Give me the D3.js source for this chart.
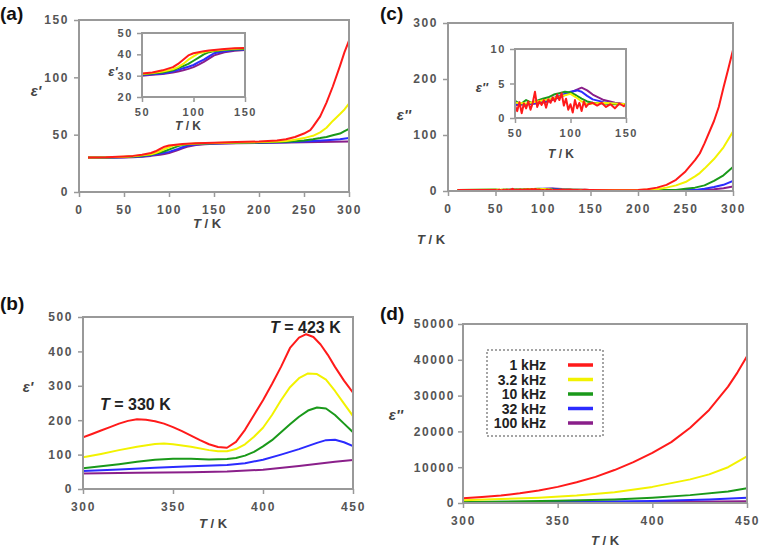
<!DOCTYPE html>
<meta charset="utf-8">
<style>
  body { margin: 0; background: #fff; }
  svg text { font-family: "Liberation Sans", Arial, sans-serif; }
  .tick text { font-weight: bold; fill: #555; letter-spacing: 1.6px; }
  .tick line { stroke: #999; stroke-width: 1.5; }
  .frame { fill: none; stroke: #999; stroke-width: 2; }
  .line { fill: none; stroke-width: 2; stroke-linejoin: round; }
  .ttl { font-weight: bold; fill: #444; }
</style>
<body>
<svg width="761" height="548"></svg>
<script src="https://d3js.org/d3.v7.min.js"></script>
<script>
// frequencies and colours
var freqs = ["1 kHz", "3.2 kHz", "10 kHz", "32 kHz", "100 kHz"];
var colors = ["#ff1a1a", "#f2f200", "#1a991a", "#2b2bff", "#8a1f8a"];

// (a) eps' , 10-300 K  [T, value]
var aRed = [[10,30],[30,30.3],[50,31],[60,31.5],[70,32.5],[80,34],[85,35.5],[90,37.5],[95,39.5],[100,40.5],[105,41],[110,41.5],[115,41.8],[120,42],[130,42.5],[140,42.8],[150,43],[175,43.5],[200,44],[220,45],[230,46],[240,48],[250,51],[257,54],[260,57],[268,66],[275,78],[282,92],[290,110],[295,122],[300,132]];
var aYellow = [[10,30],[30,30.2],[50,30.8],[60,31.2],[70,32],[80,33],[85,34],[90,35.5],[95,37.5],[100,39],[105,40.5],[110,41],[115,41.5],[120,41.8],[130,42.3],[140,42.6],[150,42.8],[175,43.2],[200,43.5],[220,44],[230,44.5],[240,45.5],[250,47],[257,48.5],[260,49],[268,52],[275,56],[282,62],[290,68],[295,72],[300,77]];
var aGreen = [[10,30],[30,30.1],[50,30.5],[60,31],[70,31.5],[80,32.5],[85,33.5],[90,34.5],[95,35.5],[100,37],[105,38.5],[110,40],[115,41],[120,41.5],[130,42],[140,42.3],[150,42.5],[175,43],[200,43.2],[220,43.5],[230,43.8],[240,44.2],[250,45],[260,46],[268,47],[275,48],[282,49.5],[290,51],[295,53],[300,55]];
var aBlue = [[10,30],[30,30],[50,30.3],[60,30.7],[70,31],[80,32],[85,32.7],[90,33.5],[95,34.2],[100,35],[105,36.3],[110,37.5],[115,39],[120,40.5],[130,41.5],[140,42],[150,42.3],[175,42.7],[200,43],[230,43.4],[250,44],[260,44.4],[275,45.2],[290,46],[300,47]];
var aPurple = [[10,29.8],[30,29.8],[50,30],[60,30.4],[70,30.8],[80,31.5],[85,32],[90,32.5],[95,33.2],[100,34],[105,35.2],[110,36.5],[115,38],[120,39.5],[130,41],[140,41.7],[150,42],[175,42.5],[200,42.8],[250,43.3],[300,44]];

// (c) eps'' , 10-300 K
var cRed = [[10,2],[30,2],[50,1.8],[52,1.0],[54,2.3],[56,0.7],[58,2.1],[60,1.4],[62,2.4],[64,1.2],[66,2.2],[68,3.8],[70,1.6],[72,2.4],[74,1.9],[76,2.6],[78,1.5],[80,2.7],[82,2.2],[84,3.0],[86,2.4],[88,3.4],[90,2.6],[92,3.6],[94,1.8],[96,2.8],[98,1.2],[100,2.0],[102,0.8],[104,2.6],[106,1.4],[108,2.2],[110,1.0],[112,2.4],[114,1.6],[116,2.0],[120,2.2],[124,1.8],[128,2.2],[132,1.6],[136,2.0],[140,1.4],[144,2.1],[148,1.7],[150,2.0],[175,1.5],[200,2],[210,3],[220,6],[230,11],[240,20],[250,35],[260,55],[265,67],[270,85],[280,125],[285,150],[290,185],[295,218],[300,252]];
var cYellow = [[10,2],[50,2.2],[60,2.1],[70,2.4],[80,2.7],[90,3.1],[95,3.3],[100,3.5],[105,3.0],[110,2.4],[115,2.0],[120,2.1],[130,2.2],[140,2.1],[150,2.0],[200,2],[220,3],[230,6],[240,10],[250,16],[260,26],[265,32],[270,40],[280,57],[290,78],[300,106]];
var cGreen = [[10,2],[50,2.5],[55,2.0],[60,2.6],[65,2.2],[70,2.5],[75,2.8],[80,3.0],[85,3.4],[90,3.6],[95,3.8],[100,3.7],[105,3.3],[110,2.8],[115,2.4],[120,2.2],[130,2.1],[140,2.0],[150,2.0],[200,1.8],[240,2],[250,4],[260,6],[270,10],[280,18],[290,28],[300,43]];
var cBlue = [[10,2],[50,2.0],[60,2.0],[70,2.2],[80,2.6],[90,3.2],[100,3.8],[106,4.0],[110,3.8],[115,3.2],[120,2.7],[130,2.3],[140,2.1],[150,2.0],[200,1.8],[260,2],[270,4],[280,7],[290,11],[300,18]];
var cPurple = [[10,2],[50,1.9],[60,2.0],[70,2.1],[80,2.4],[90,3.0],[100,3.7],[110,4.4],[115,4.0],[120,3.4],[130,2.6],[140,2.2],[150,2.0],[200,1.6],[270,2],[280,3],[290,5],[300,8]];

// (b) eps' , 300-450 K
var bRed = [[300,150],[305,160],[310,170],[315,180],[320,190],[325,198],[330,203],[335,201],[340,197],[345,190],[350,180],[355,168],[360,155],[365,142],[370,130],[375,122],[380,120],[385,137],[390,172],[395,215],[400,258],[405,305],[410,355],[415,410],[420,440],[424,450],[428,442],[432,420],[436,390],[440,355],[445,315],[450,280]];
var bYellow = [[300,92],[310,102],[320,113],[330,123],[340,131],[345,132],[350,130],[360,123],[370,113],[375,110],[380,110],[385,116],[390,130],[395,152],[400,178],[405,215],[410,258],[415,296],[420,322],[425,336],[430,334],[435,318],[440,285],[445,248],[450,212]];
var bGreen = [[300,60],[310,66],[320,72],[330,79],[340,85],[350,88],[360,88],[370,86],[380,87],[385,90],[390,97],[395,108],[400,124],[405,142],[410,165],[415,188],[420,210],[425,228],[430,237],[435,234],[440,215],[445,190],[450,165]];
var bBlue = [[300,52],[320,57],[340,62],[360,66],[380,70],[390,75],[400,85],[410,100],[420,116],[430,134],[435,142],[440,143],[445,136],[450,125]];
var bPurple = [[300,45],[330,47],[360,49],[380,51],[400,56],[420,67],[440,79],[450,84]];

// (d) eps'' , 300-450 K
var dRed = [[300,1300],[310,1700],[320,2100],[330,2700],[340,3500],[350,4500],[360,5800],[370,7300],[380,9200],[390,11400],[400,14000],[410,17000],[420,21000],[430,26000],[440,32500],[445,36500],[450,41000]];
var dYellow = [[300,800],[320,1100],[340,1500],[360,2100],[380,3000],[400,4500],[420,6600],[430,8000],[440,10000],[450,13000]];
var dGreen = [[300,300],[350,600],[380,1000],[400,1500],[420,2200],[440,3200],[450,4100]];
var dBlue = [[300,100],[350,250],[400,550],[430,1000],[450,1500]];
var dPurple = [[300,50],[350,120],[400,250],[450,500]];

var svg = d3.select("svg");
var clipN = 0;

// draws one framed plot with ticks
function plot(box, xDom, yDom, xTicks, yTicks, series, fs) {
  var g = svg.append("g");
  var x = d3.scaleLinear().domain(xDom).range([box.l, box.r]);
  var y = d3.scaleLinear().domain(yDom).range([box.b, box.t]);

  g.append("rect").attr("x", box.l).attr("y", box.t)
    .attr("width", box.r - box.l).attr("height", box.b - box.t)
    .attr("fill", "#fff");

  var id = "clip" + (clipN++);
  g.append("clipPath").attr("id", id).append("rect")
    .attr("x", box.l).attr("y", box.t - 2)
    .attr("width", box.r - box.l).attr("height", box.b - box.t + 2);

  var line = d3.line().x(function(d) { return x(d[0]); }).y(function(d) { return y(d[1]); });
  var ord = series.map(function(s, i) { return i; }).reverse();
  ord.forEach(function(i) {
    g.append("path").datum(series[i]).attr("class", "line")
      .attr("clip-path", "url(#" + id + ")")
      .attr("stroke", colors[i]).attr("d", line);
  });

  g.append("g").attr("transform", "translate(0," + box.b + ")")
    .call(d3.axisBottom(x).tickValues(xTicks).tickFormat(d3.format("d")).tickSize(5).tickPadding(fs.xp))
    .call(function(a) { a.select(".domain").remove(); a.selectAll("text").style("font-size", fs.size + "px"); });
  g.append("g").attr("transform", "translate(" + box.l + ",0)")
    .call(d3.axisLeft(y).tickValues(yTicks).tickFormat(d3.format("d")).tickSize(5).tickPadding(fs.yp))
    .call(function(a) { a.select(".domain").remove(); a.selectAll("text").style("font-size", fs.size + "px"); });

  g.append("rect").attr("class", "frame").attr("x", box.l).attr("y", box.t)
    .attr("width", box.r - box.l).attr("height", box.b - box.t);
  return g;
}

function tTitle(px, py, size) {
  var t = svg.append("text").attr("class", "ttl").attr("x", px).attr("y", py)
    .attr("text-anchor", "middle").style("font-size", size + "px");
  t.append("tspan").style("font-style", "italic").text("T");
  t.append("tspan").text(" / K");
}
function epsLabel(px, py, txt, size) {
  svg.append("text").attr("x", px).attr("y", py).attr("text-anchor", "middle")
    .style("font-size", size + "px").style("font-style", "italic").style("font-weight", "bold")
    .attr("fill", "#444").text(txt);
}
function panelLabel(px, py, txt) {
  svg.append("text").attr("x", px).attr("y", py).style("font-size", "19px")
    .style("font-weight", "bold").attr("fill", "#111").text(txt);
}

var big = {size: 12, xp: 8, yp: 5};
var small = {size: 11, xp: 6, yp: 4};

// (a)
plot({l: 79, r: 349, t: 20, b: 192}, [0, 300], [0, 150], [0, 50, 100, 150, 200, 250, 300], [0, 50, 100, 150],
  [aRed, aYellow, aGreen, aBlue, aPurple], big);
plot({l: 142, r: 245, t: 33, b: 97}, [50, 150], [20, 50], [50, 100, 150], [20, 30, 40, 50],
  [aRed, aYellow, aGreen, aBlue, aPurple], small);
panelLabel(0, 20, "(a)");
epsLabel(36, 96, "ε'", 15);
epsLabel(113, 76, "ε'", 13);
tTitle(207, 228, 13);
tTitle(188, 130, 12);

// (c)
plot({l: 448, r: 733, t: 23, b: 191}, [0, 300], [0, 300], [0, 50, 100, 150, 200, 250, 300], [0, 100, 200, 300],
  [cRed, cYellow, cGreen, cBlue, cPurple], big);
plot({l: 515, r: 626, t: 49, b: 118}, [50, 150], [0, 10], [50, 100, 150], [0, 5, 10],
  [cRed, cYellow, cGreen, cBlue, cPurple], small);
panelLabel(380, 20, "(c)");
epsLabel(404, 120, "ε''", 15);
epsLabel(482, 92, "ε''", 13);
tTitle(431, 244, 13);
tTitle(561, 158, 12);

// (b)
plot({l: 83, r: 353, t: 317, b: 489}, [300, 450], [0, 500], [300, 350, 400, 450], [0, 100, 200, 300, 400, 500],
  [bRed, bYellow, bGreen, bBlue, bPurple], big);
panelLabel(0, 310, "(b)");
epsLabel(28, 392, "ε'", 15);
tTitle(213, 528, 13);
[["330", 100, 410], ["423", 270, 333]].forEach(function(a) {
  var t = svg.append("text").attr("x", a[1]).attr("y", a[2]).style("font-size", "16px")
    .style("font-weight", "bold").attr("fill", "#222");
  t.append("tspan").style("font-style", "italic").text("T");
  t.append("tspan").text(" = " + a[0] + " K");
});

// (d)
plot({l: 463, r: 747, t: 324, b: 503}, [300, 450], [0, 50000], [300, 350, 400, 450], [0, 10000, 20000, 30000, 40000, 50000],
  [dRed, dYellow, dGreen, dBlue, dPurple], {size: 12, xp: 8, yp: 3});
panelLabel(380, 320, "(d)");
epsLabel(396, 420, "ε''", 15);
tTitle(605, 545, 13);

// legend
var lg = svg.append("g");
lg.append("rect").attr("x", 487).attr("y", 350).attr("width", 116).attr("height", 86)
  .attr("fill", "#fff").attr("stroke", "#888").attr("stroke-width", 1.5).attr("stroke-dasharray", "2,2");
freqs.forEach(function(f, i) {
  var yy = 365 + i * 14.5;
  lg.append("text").attr("x", 546).attr("y", yy + 5).attr("text-anchor", "end")
    .style("font-size", "14px").style("font-weight", "bold").attr("fill", "#222").text(f);
  lg.append("line").attr("x1", 568).attr("x2", 593).attr("y1", yy).attr("y2", yy)
    .attr("stroke", colors[i]).attr("stroke-width", 3.5);
});
</script>
</body>
